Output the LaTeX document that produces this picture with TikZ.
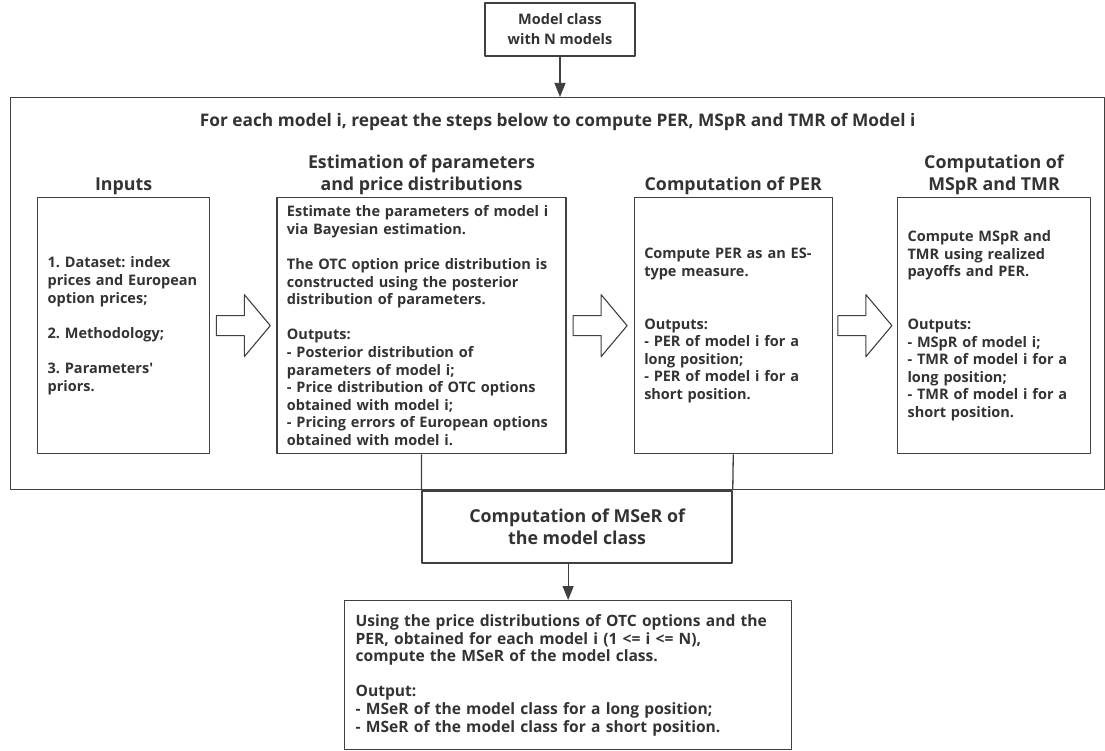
\documentclass[tikz,border=0pt]{standalone}
\usepackage{fontspec}
\setmainfont{Open Sans}
\usetikzlibrary{positioning,arrows.meta}
\definecolor{linegray}{HTML}{404040}
\definecolor{textgray}{HTML}{333333}
\frenchspacing
\hyphenpenalty=10000
\begin{document}
\begin{tikzpicture}[x=1pt, y=-1pt, line join=round, >={Triangle[length=14pt,width=11pt]}]
	\def\gap{17.6pt}
	\def\twogap{35.2pt}
	\tikzset{
		every node/.style={text=textgray},
		box/.style={draw=linegray, line width=1.3pt, inner xsep=10pt, align=left, minimum height=256pt,
			font=\fontsize{14.5}{17.6}\selectfont\bfseries},
		heading/.style={font=\fontsize{17.8}{22}\selectfont\bfseries, align=center, inner sep=2pt},
		blockarrow/.pic={
				\draw[linegray, line width=1.1pt, fill=white] (0,-10)--(28,-10)--(28,-31)--(54,0)--(28,31)--(28,10)--(0,10)--cycle;
		}}
	\useasboundingbox (0,0) rectangle (1105,751);
	% model class and the loop over models
	\node[draw=linegray, line width=1.3pt, align=center, minimum width=150pt, minimum height=53pt,
		font=\fontsize{14.5}{20}\selectfont\bfseries] (model) at (560,29.5) {Model class\\with N models};
	\node[draw=linegray, line width=1.3pt, anchor=north west, minimum width=1094pt, minimum height=392pt] (loop) at (10,97) {};
	\node[font=\fontsize{17.3}{20}\selectfont\bfseries, below=13pt of loop.north] (looptitle)
		{For each model i, repeat the steps below to compute PER, MSpR and TMR of Model i};
	\draw[linegray, line width=1.3pt, ->] (model.south) -- (model.south |- loop.north);
	% the four steps
	\node[box, anchor=north west, minimum width=172pt, text width=152pt] (inputs) at (37,197)
		{1. Dataset: index\\prices and European\\option prices;\\[\gap]2. Methodology;\\[\gap]3. Parameters\textquotesingle\\priors.};
	\node[box, minimum width=289pt, text width=269pt, right=66pt of inputs] (estim)
		{Estimate the parameters of model i\\via Bayesian estimation.\\[\gap]The OTC option price distribution is\\constructed using the posterior\\distribution of parameters.\\[\gap]Outputs:\\- Posterior distribution of\\parameters of model i;\\- Price distribution of OTC options\\obtained with model i;\\- Pricing errors of European options\\obtained with model i.};
	\node[box, minimum width=198pt, text width=178pt, right=67pt of estim] (per)
		{Compute PER as an ES-\\type measure.\\[\twogap]Outputs:\\- PER of model i for a\\long position;\\- PER of model i for a\\short position.};
	\node[box, minimum width=193pt, text width=173pt, right=64pt of per] (mspr)
		{Compute MSpR and\\TMR using realized\\payoffs and PER.\\[\twogap]Outputs:\\- MSpR of model i;\\- TMR of model i for a\\long position;\\- TMR of model i for a\\short position.};
	\node[heading, above=0pt of inputs] (inputs-title) {Inputs};
	\node[heading, above=0pt of estim] (estim-title) {Estimation of parameters\\and price distributions};
	\node[heading, above=0pt of per] (per-title) {Computation of PER};
	\node[heading, above=0pt of mspr] (mspr-title) {Computation of\\MSpR and TMR};
	\path (inputs.east) -- (estim.west) coordinate[pos=.5] (a1)
		(estim.east) -- (per.west) coordinate[pos=.5] (a2)
		(per.east) -- (mspr.west) coordinate[pos=.5] (a3);
	\foreach \c in {a1,a2,a3} \path (\c) ++(-27,0) pic{blockarrow};
	% model class measure
	\node[draw=linegray, line width=1.3pt, heading, anchor=north west, minimum width=310pt, minimum height=72pt]
		(mser) at (estim.south |- loop.south) {Computation of MSeR of\\the model class};
	\draw[linegray, line width=1.3pt] (estim.south) -- (mser.north west) (per.south) -- (mser.north east);
	\node[box, anchor=north west, minimum width=447pt, text width=425pt, inner xsep=11pt, minimum height=149pt,
		font=\fontsize{15.6}{17.6}\selectfont\bfseries] (final) at (344,600)
		{Using the price distributions of OTC options and the\\PER, obtained for each model i (1 <= i <= N),\\compute the MSeR of the model class.\\[\gap]Output:\\- MSeR of the model class for a long position;\\- MSeR of the model class for a short position.};
	\draw[linegray, line width=1.3pt, ->] (final.north |- mser.south) -- (final.north);
\end{tikzpicture}
\end{document}
